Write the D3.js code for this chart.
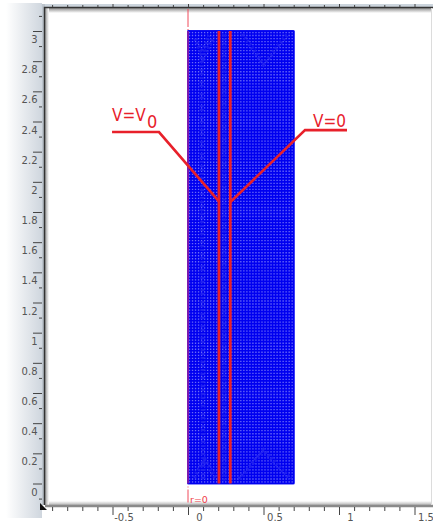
<!DOCTYPE html>
<html>
<head>
<meta charset="utf-8">
<script src="https://cdnjs.cloudflare.com/ajax/libs/d3/7.8.5/d3.min.js"></script>
<style>
html, body { margin: 0; padding: 0; background: #fff; }
svg { display: block; }
text { font-family: "DejaVu Sans", sans-serif; }
.callout { font-family: "DejaVu Sans Condensed", "DejaVu Sans", sans-serif; }
</style>
</head>
<body>
<div id="chart"></div>
<script>
"use strict";

const xTicks = [-0.5, 0, 0.5, 1, 1.5];
const yTicks = [0, 0.2, 0.4, 0.6, 0.8, 1, 1.2, 1.4, 1.6, 1.8, 2, 2.2, 2.4, 2.6, 2.8, 3];
const xMinorTicks = [-0.9, -0.8, -0.7, -0.6, -0.4, -0.3, -0.2, -0.1, 0.1, 0.2, 0.3, 0.4, 0.6, 0.7, 0.8, 0.9, 1.1, 1.2, 1.3, 1.4];
const yMinorTicks = [-0.1, 0.1, 0.3, 0.5, 0.7, 0.9, 1.1, 1.3, 1.5, 1.7, 1.9, 2.1, 2.3, 2.5, 2.7, 2.9, 3.1];

const meshExtentR = [0, 0.7];
const meshExtentZ = [0, 3];
const electrodeR = [0.205, 0.28];

// Denser parts of the mesh, [r, z]
const denseBands = [
    [[0.1, 0.03], [0.09, 2.85], [0.14, 2.97]],
    [[0.05, 2.95], [0.1, 2.82], [0.17, 2.96]],
    [[0.36, 2.98], [0.5, 2.78], [0.66, 2.98]],
    [[0.34, 0.03], [0.5, 0.22], [0.68, 0.03]],
    [[0.04, 0.04], [0.11, 0.16], [0.18, 0.04]],
    [[0.24, 0.02], [0.24, 2.98]]
];

// Callouts, [r, z]
const leftLeader = [[-0.503, 2.33], [-0.192, 2.33], [0.205, 1.87]];
const rightLeader = [[1.053, 2.343], [0.775, 2.343], [0.28, 1.865]];

const width = 433, height = 522;
const plot = { left: 45, right: 431, top: 8, bottom: 505 };

const x = d3.scaleLinear().domain([0, 1]).range([188, 339]);
const y = d3.scaleLinear().domain([0, 3]).range([483.5, 31]);

const svg = d3.select("#chart").append("svg")
    .attr("width", width)
    .attr("height", height)
    .attr("viewBox", [0, 0, width, height]);

const defs = svg.append("defs");

const leftFade = defs.append("linearGradient").attr("id", "leftFade");
leftFade.append("stop").attr("offset", "0%").attr("stop-color", "#ffffff");
leftFade.append("stop").attr("offset", "100%").attr("stop-color", "#cfd6de");

const innerTop = defs.append("linearGradient").attr("id", "innerTop")
    .attr("x2", 0).attr("y2", 1);
innerTop.append("stop").attr("offset", "0%").attr("stop-color", "#8c8c8c");
innerTop.append("stop").attr("offset", "100%").attr("stop-color", "#ffffff");

const innerBottom = defs.append("linearGradient").attr("id", "innerBottom")
    .attr("x2", 0).attr("y2", 1);
innerBottom.append("stop").attr("offset", "0%").attr("stop-color", "#ffffff");
innerBottom.append("stop").attr("offset", "100%").attr("stop-color", "#b4b4b4");

const innerLeft = defs.append("linearGradient").attr("id", "innerLeft");
innerLeft.append("stop").attr("offset", "0%").attr("stop-color", "#9a9a9a");
innerLeft.append("stop").attr("offset", "100%").attr("stop-color", "#ffffff");

// Window chrome around the plot area
svg.append("rect").attr("x", 6).attr("y", 3).attr("width", 36).attr("height", 515).attr("fill", "url(#leftFade)");
svg.append("rect").attr("x", 41).attr("y", 4).attr("width", 392).attr("height", 4).attr("fill", "#ccd5dd");
svg.append("rect").attr("x", 42).attr("y", 4).attr("width", 3).attr("height", 501).attr("fill", "#bcc4cc");

svg.append("rect").attr("x", plot.left).attr("y", plot.top).attr("width", plot.right - plot.left).attr("height", plot.bottom - plot.top).attr("fill", "#fff");
svg.append("rect").attr("x", plot.left).attr("y", plot.top).attr("width", plot.right - plot.left).attr("height", 5).attr("fill", "url(#innerTop)");
svg.append("rect").attr("x", plot.left).attr("y", plot.bottom - 4).attr("width", plot.right - plot.left).attr("height", 4).attr("fill", "url(#innerBottom)");
svg.append("rect").attr("x", plot.left).attr("y", plot.top).attr("width", 4).attr("height", plot.bottom - plot.top).attr("fill", "url(#innerLeft)");

svg.append("path")
    .attr("d", `M${plot.left - 0.5},${plot.bottom} V${plot.top - 0.5} H${width}`)
    .attr("fill", "none").attr("stroke", "#333").attr("stroke-width", 1.5);
svg.append("line")
    .attr("x1", plot.left).attr("x2", width).attr("y1", plot.bottom + 1).attr("y2", plot.bottom + 1)
    .attr("stroke", "#8a8a8a").attr("stroke-width", 2.5);
svg.append("line")
    .attr("x1", plot.right + 0.5).attr("x2", plot.right + 0.5).attr("y1", plot.top).attr("y2", plot.bottom)
    .attr("stroke", "#dcdcdc");

// Mesh
const meshX = d3.range(0, 0.7001, 0.02);
const meshY = d3.range(0, 3.0001, 0.02);

svg.append("rect")
    .attr("x", x(meshExtentR[0]))
    .attr("y", y(meshExtentZ[1]))
    .attr("width", x(meshExtentR[1]) - x(meshExtentR[0]))
    .attr("height", y(meshExtentZ[0]) - y(meshExtentZ[1]))
    .attr("fill", "#6a6af8");

svg.append("g")
    .attr("stroke", "#0000f0")
    .attr("stroke-width", 1.7)
    .selectAll("line")
    .data(meshX)
    .join("line")
    .attr("x1", d => x(d)).attr("x2", d => x(d))
    .attr("y1", y(meshExtentZ[0])).attr("y2", y(meshExtentZ[1]));

svg.append("g")
    .attr("stroke", "#0000f0")
    .attr("stroke-width", 1.7)
    .selectAll("line")
    .data(meshY)
    .join("line")
    .attr("x1", x(meshExtentR[0])).attr("x2", x(meshExtentR[1]))
    .attr("y1", d => y(d)).attr("y2", d => y(d));

const line = d3.line().x(d => x(d[0])).y(d => y(d[1]));

svg.append("g")
    .attr("fill", "none")
    .attr("stroke", "#2020f0")
    .attr("stroke-width", 4)
    .attr("stroke-dasharray", "2,2")
    .selectAll("path")
    .data(denseBands)
    .join("path")
    .attr("d", line);

svg.append("rect")
    .attr("x", x(meshExtentR[0]))
    .attr("y", y(meshExtentZ[1]))
    .attr("width", x(meshExtentR[1]) - x(meshExtentR[0]))
    .attr("height", y(meshExtentZ[0]) - y(meshExtentZ[1]))
    .attr("fill", "none")
    .attr("stroke", "#0000f0")
    .attr("stroke-width", 1.5);

// Symmetry axis
svg.append("line")
    .attr("x1", x(0)).attr("x2", x(0))
    .attr("y1", plot.top + 1).attr("y2", y(3))
    .attr("stroke", "#f04a5a").attr("stroke-dasharray", "18,2,1,2");
svg.append("line")
    .attr("x1", x(0)).attr("x2", x(0))
    .attr("y1", y(3)).attr("y2", y(0))
    .attr("stroke", "#a0209a").attr("stroke-width", 1.5);
svg.append("line")
    .attr("x1", x(0)).attr("x2", x(0))
    .attr("y1", y(0) + 3).attr("y2", y(0) + 19)
    .attr("stroke", "#f04a5a").attr("stroke-dasharray", "1,2,13,0");
svg.append("text")
    .attr("x", x(0) + 2).attr("y", 503)
    .attr("font-size", 9.5)
    .attr("fill", "#f0404a")
    .text("r=0");

// Electrodes
svg.append("g")
    .attr("stroke", "#e8202a")
    .attr("stroke-width", 2.8)
    .selectAll("line")
    .data(electrodeR)
    .join("line")
    .attr("x1", d => x(d)).attr("x2", d => x(d))
    .attr("y1", y(3)).attr("y2", y(0));

svg.append("g")
    .attr("fill", "none")
    .attr("stroke", "#e8202a")
    .attr("stroke-width", 2.6)
    .selectAll("path")
    .data([leftLeader, rightLeader])
    .join("path")
    .attr("d", line);

svg.append("text")
    .attr("class", "callout")
    .attr("x", 112).attr("y", 121)
    .attr("font-size", 17)
    .attr("fill", "#e8202a")
    .text("V=V");
svg.append("text")
    .attr("class", "callout")
    .attr("x", 147).attr("y", 128)
    .attr("font-size", 18)
    .attr("fill", "#e8202a")
    .text("0");
svg.append("text")
    .attr("class", "callout")
    .attr("x", 313).attr("y", 127)
    .attr("font-size", 17)
    .attr("fill", "#e8202a")
    .text("V=0");

// Axes
function tickStyle(g) {
    g.select(".domain").remove();
    g.selectAll("line").attr("stroke", "#444");
    g.selectAll("text").attr("font-size", 10).attr("fill", "#555");
}

svg.append("g")
    .attr("transform", `translate(0,${plot.bottom + 2})`)
    .call(d3.axisBottom(x).tickValues(xTicks).tickFormat(d => String(d)).tickSize(8))
    .call(tickStyle)
    .call(g => g.selectAll("text").attr("dx", 11).attr("y", 14).attr("dy", 0));

svg.append("g")
    .attr("transform", `translate(0,${plot.bottom + 2})`)
    .call(d3.axisBottom(x).tickValues(xMinorTicks).tickFormat("").tickSize(4))
    .call(tickStyle);

svg.append("g")
    .attr("transform", `translate(${plot.left - 3},0)`)
    .call(d3.axisLeft(y).tickValues(yTicks).tickFormat(d => String(d)).tickSize(9))
    .call(tickStyle)
    .call(g => g.selectAll("text").attr("x", -4.5).attr("dy", "1.15em"));

svg.append("g")
    .attr("transform", `translate(${plot.left - 3},0)`)
    .call(d3.axisLeft(y).tickValues(yMinorTicks).tickFormat("").tickSize(3))
    .call(tickStyle);

// Ticks repeated along the top edge
svg.append("g")
    .attr("transform", `translate(0,${plot.top - 1})`)
    .call(d3.axisTop(x).tickValues(xTicks).tickFormat("").tickSize(3))
    .call(tickStyle);
svg.append("g")
    .attr("transform", `translate(0,${plot.top - 1})`)
    .call(d3.axisTop(x).tickValues(xMinorTicks).tickFormat("").tickSize(2))
    .call(tickStyle);

// Corner marker
svg.append("path")
    .attr("d", d3.line()([[40, 503], [47, 510], [40, 510]]))
    .attr("fill", "#111");
</script>
</body>
</html>
